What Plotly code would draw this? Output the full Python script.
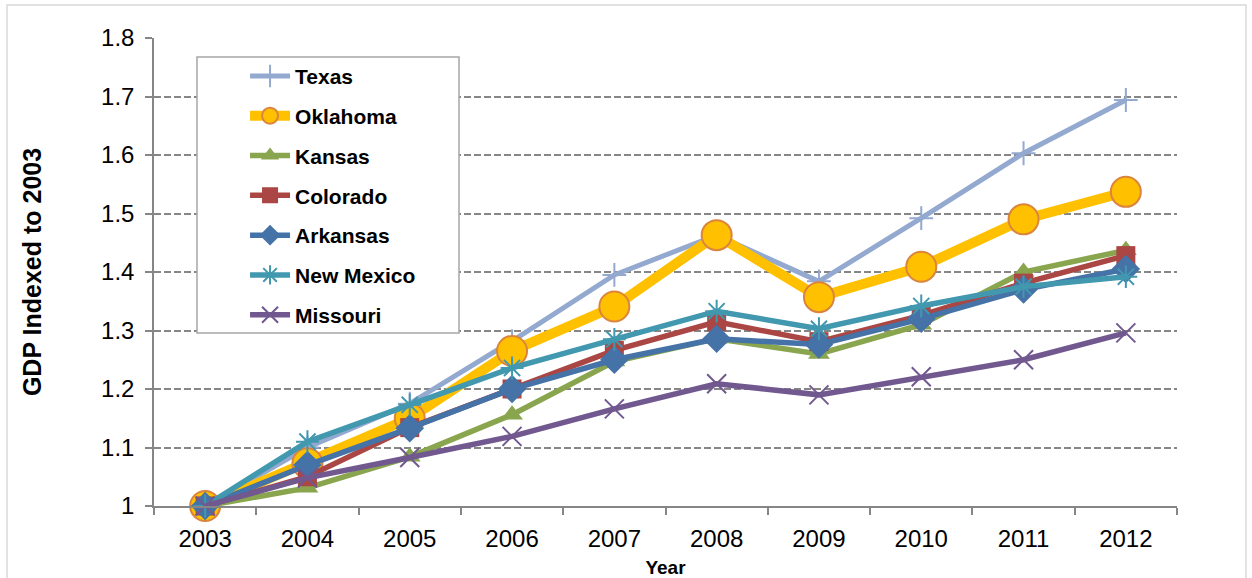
import plotly.graph_objects as go

years = ["2003", "2004", "2005", "2006", "2007", "2008", "2009", "2010", "2011", "2012"]

texas      = [1.0, 1.100, 1.175, 1.282, 1.395, 1.463, 1.384, 1.492, 1.603, 1.694]
oklahoma   = [1.0, 1.073, 1.150, 1.265, 1.341, 1.463, 1.357, 1.409, 1.490, 1.537]
kansas     = [1.0, 1.031, 1.084, 1.156, 1.247, 1.286, 1.260, 1.310, 1.400, 1.437]
colorado   = [1.0, 1.050, 1.134, 1.200, 1.266, 1.315, 1.281, 1.326, 1.381, 1.428]
arkansas   = [1.0, 1.070, 1.133, 1.200, 1.250, 1.286, 1.276, 1.320, 1.370, 1.405]
new_mexico = [1.0, 1.110, 1.173, 1.236, 1.285, 1.333, 1.303, 1.342, 1.375, 1.392]
missouri   = [1.0, 1.048, 1.083, 1.119, 1.166, 1.209, 1.190, 1.221, 1.250, 1.296]

y_ticks = [1.0, 1.1, 1.2, 1.3, 1.4, 1.5, 1.6, 1.7, 1.8]
y_tick_text = ["1", "1.1", "1.2", "1.3", "1.4", "1.5", "1.6", "1.7", "1.8"]

FONT = "Arial, Liberation Sans, sans-serif"

series = [
    ("Texas", texas, "#93A9CF", 5, dict(symbol="cross-thin", size=17, line=dict(color="#93A9CF", width=2))),
    ("Oklahoma", oklahoma, "#FFC000", 10, dict(symbol="circle", size=30, color="#FFC000", line=dict(color="#DB843D", width=2))),
    ("Kansas", kansas, "#89A54E", 5.5, dict(symbol="triangle-up", size=19, color="#89A54E")),
    ("Colorado", colorado, "#AA4643", 5.5, dict(symbol="square", size=19, color="#AA4643")),
    ("Arkansas", arkansas, "#4572A7", 5.5, dict(symbol="diamond", size=22, color="#4572A7")),
    ("New Mexico", new_mexico, "#4198AF", 5.5, dict(symbol="asterisk-open", size=19, line=dict(color="#4198AF", width=2))),
    ("Missouri", missouri, "#71588F", 5.5, dict(symbol="x-thin-open", size=19, line=dict(color="#71588F", width=2))),
]

fig = go.Figure()
for name, vals, color, lw, marker in series:
    marker = dict(marker)
    marker.setdefault("color", color)
    fig.add_trace(go.Scatter(
        x=years, y=vals, name=name, mode="lines+markers",
        line=dict(color=color, width=lw), marker=marker,
        legendgroup=name, cliponaxis=False,
    ))

fig.update_layout(
    width=1252, height=578,
    margin=dict(l=154, r=75, t=38, b=72, autoexpand=False),
    paper_bgcolor="white", plot_bgcolor="white",
    font=dict(family=FONT, color="black"),
    showlegend=True,
    legend=dict(
        x=0.089, y=0.962, xanchor="left", yanchor="top",
        bgcolor="rgba(0,0,0,0)", borderwidth=0,
        font=dict(family=FONT, size=21, color="black", weight="bold"),
        tracegroupgap=9.5, itemwidth=40,
    ),
    xaxis=dict(
        type="category", range=[-0.5, 9.5], tickson="boundaries", ticks="outside", ticklen=7,
        tickcolor="#868686", tickwidth=1.5, showline=True, linecolor="#868686", linewidth=1.5,
        showgrid=False, zeroline=False, ticklabelstandoff=10, automargin=False,
        tickfont=dict(family=FONT, size=24),
        title=dict(text="<b>Year</b>", font=dict(family=FONT, size=19), standoff=10),
    ),
    yaxis=dict(
        range=[1, 1.8], tickvals=y_ticks, ticktext=y_tick_text,
        ticks="outside", ticklen=7, tickcolor="#868686", tickwidth=1.5,
        showline=True, linecolor="#868686", linewidth=1.5,
        showgrid=True, gridcolor="#868686", griddash="7px,3px", gridwidth=1.8,
        zeroline=False, ticklabelstandoff=6, automargin=False,
        tickfont=dict(family=FONT, size=24),
        title=dict(text="<b>GDP Indexed to 2003</b>", font=dict(family=FONT, size=25), standoff=52),
    ),
    shapes=[
        dict(type="rect", xref="paper", yref="paper",
             x0=(7 - 154) / 1023, x1=(1246 - 154) / 1023,
             y0=(506 - 590) / 468, y1=(506 - 5) / 468,
             line=dict(color="#D9D9D9", width=1.5), fillcolor="rgba(0,0,0,0)", layer="below"),
        dict(type="rect", xref="paper", yref="paper",
             x0=(197 - 154) / 1023, x1=(459 - 154) / 1023,
             y0=(506 - 333) / 468, y1=(506 - 57) / 468,
             line=dict(color="#A6A6A6", width=1.5), fillcolor="white", layer="above"),
    ],
)

fig.write_html("out.html", config={"displayModeBar": False},
               post_script="document.body.style.margin='0';document.body.style.padding='0';")
